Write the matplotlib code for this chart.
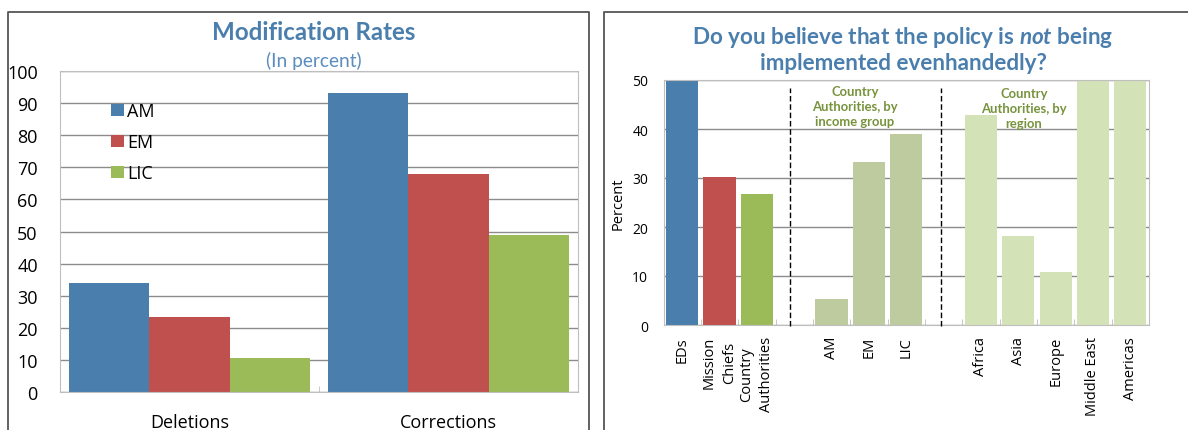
import numpy as np
import matplotlib
matplotlib.use("Agg")
import matplotlib.pyplot as plt
from matplotlib.lines import Line2D

plt.rcParams['font.family'] = ['Open Sans', 'DejaVu Sans']
plt.rcParams['mathtext.fontset'] = 'custom'
plt.rcParams['mathtext.it'] = 'Lato:italic:bold'
plt.rcParams['mathtext.rm'] = 'Lato:bold'

# данные: левый график
groups = ['Deletions', 'Corrections']
am = [34, 93]
em = [23.5, 68]
lic = [10.5, 49]

# данные: правый график
cats = ['EDs', 'Mission\nChiefs', 'Country\nAuthorities',
        'AM', 'EM', 'LIC',
        'Africa', 'Asia', 'Europe', 'Middle East', 'Americas']
vals = [50, 30.3, 26.7, 5.3, 33.3, 39.0, 42.9, 18.2, 10.9, 50, 50]
block = [0, 0, 0, 1, 1, 1, 2, 2, 2, 2, 2]
bar_cols = ['#4A7EAD', '#C0504D', '#9BBB59',
            '#BDCB9E', '#BDCB9E', '#BDCB9E',
            '#D4E2B7', '#D4E2B7', '#D4E2B7', '#D4E2B7', '#D4E2B7']

BLUE = '#4A7EAD'
W, H = 1188, 431

fig = plt.figure(figsize=(W / 100, H / 100), dpi=100)


def fx(x):
    return x / W


def fy(y):
    return 1 - y / H


# рамки панелей
fig.add_artist(Line2D([fx(7.5), fx(7.5), fx(589), fx(589)],
                      [fy(431), fy(12.7), fy(12.7), fy(431)],
                      color='#555555', lw=1.3))
fig.add_artist(Line2D([fx(604), fx(604), fx(1188)],
                      [fy(431), fy(12.7), fy(12.7)],
                      color='#555555', lw=1.3))

# ---- левый график ----
ax1 = fig.add_axes([fx(60), fy(393), fx(578 - 60), (393 - 72) / H])
x = np.arange(len(groups))
bw = 0.311
ax1.bar(x - bw, am, bw, color='#4A7EAD', label='AM', zorder=2)
ax1.bar(x, em, bw, color='#C0504D', label='EM', zorder=2)
ax1.bar(x + bw, lic, bw, color='#9BBB59', label='LIC', zorder=2)
ax1.set_xlim(-0.5, 1.5)
ax1.set_ylim(0, 100)
ax1.set_yticks(range(0, 101, 10))
ax1.set_xticks(x)
ax1.set_xticklabels(groups)
ax1.set_xticks([0.5], minor=True)
ax1.tick_params(axis='y', length=0, pad=16, labelsize=13)
ax1.tick_params(axis='x', which='major', length=0, pad=15, labelsize=13)
ax1.tick_params(axis='x', which='minor', length=4, direction='in', color='#BFBFBF')
ax1.grid(axis='y', color='#8C8C8C', lw=1, zorder=0)
for s in ax1.spines.values():
    s.set_color('#BFBFBF')
leg = ax1.legend(loc='upper left', bbox_to_anchor=(0.081, 0.93), frameon=False,
                 fontsize=13, handlelength=0.7, handleheight=0.7,
                 handletextpad=0.2, labelspacing=0.72, borderpad=0)
fig.text(fx(314), fy(33), 'Modification Rates', family='Lato', weight='bold',
         fontsize=17.4, color=BLUE, ha='center', va='center')
fig.text(fx(314), fy(61), '(In percent)', family='Lato',
         fontsize=13.8, color='#5B8DBF', ha='center', va='center')

# ---- правый график ----
ax2 = fig.add_axes([fx(663.5), fy(326), fx(1149 - 663.5), (326 - 81) / H])
pos = np.arange(len(cats)) + np.array(block)
ax2.bar(pos, vals, 0.86, color=bar_cols, zorder=2)
ax2.set_xlim(-0.5, 12.5)
ax2.set_ylim(0, 50)
ax2.set_yticks(range(0, 51, 10))
ax2.set_xticks(pos)
ax2.set_xticklabels(cats, rotation=90, va='top', ha='center',
                    multialignment='center', linespacing=1.45)
ax2.set_xticks(np.arange(0.5, 12.5, 1), minor=True)
ax2.tick_params(axis='y', length=0, pad=11, labelsize=10)
ax2.tick_params(axis='x', which='major', length=0, pad=8, labelsize=10.5)
ax2.tick_params(axis='x', which='minor', length=4, direction='in', color='#BFBFBF')
ax2.grid(axis='y', color='#8C8C8C', lw=1, zorder=0)
for s in ax2.spines.values():
    s.set_color('#BFBFBF')
ax2.set_ylabel('Percent', fontsize=10.5)
ax2.yaxis.set_label_coords(-0.078, 0.5)
for xd in [2.88, 6.92]:
    ax2.plot([xd, xd], [-0.3, 48.4], color='black', lw=1, ls=(0, (4, 2)),
             zorder=3, clip_on=False)
ax2.text(4.63, 44.7, 'Country\nAuthorities, by\nincome group', family='Lato',
         weight='bold', fontsize=9.4, color='#77933C', ha='center', va='center',
         linespacing=1.3)
ax2.text(9.15, 44.3, 'Country\nAuthorities, by\nregion', family='Lato',
         weight='bold', fontsize=9.4, color='#77933C', ha='center', va='center',
         linespacing=1.3)
fig.text(fx(903), fy(37), r'Do you believe that the policy is $not$ being',
         family='Lato', weight='bold', fontsize=16.2, color=BLUE,
         ha='center', va='center')
fig.text(fx(903), fy(64), 'implemented evenhandedly?', family='Lato',
         weight='bold', fontsize=16.2, color=BLUE, ha='center', va='center')

plt.savefig('out.png', dpi=100)
